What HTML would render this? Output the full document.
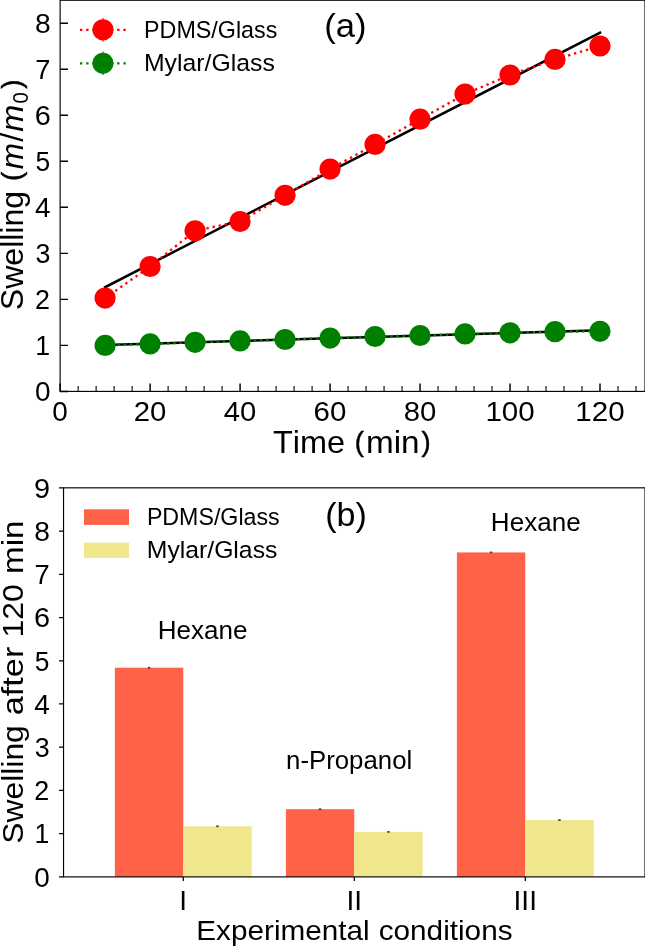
<!DOCTYPE html>
<html><head><meta charset="utf-8"><style>
html,body{margin:0;padding:0;background:#fff;}
svg{display:block;will-change:transform;}
text{font-family:"Liberation Sans",sans-serif;fill:#000;font-kerning:none;}
</style></head><body>
<svg width="645" height="946" viewBox="0 0 645 946">
<rect width="645" height="946" fill="#fff"/>
<line x1="105.12" y1="287.21" x2="600.01" y2="32.69" stroke="#000" stroke-width="2.5" stroke-linecap="square"/>
<line x1="105.12" y1="344.96" x2="600.01" y2="330.34" stroke="#000" stroke-width="2.5" stroke-linecap="square"/>
<polyline points="105.12,298.10 150.11,266.50 195.10,230.80 240.09,221.50 285.08,195.30 330.07,169.10 375.06,144.40 420.05,119.20 465.04,94.10 510.03,75.00 555.02,59.40 600.01,46.00" fill="none" stroke="#ff0000" stroke-width="2.34" stroke-dasharray="2.34 3.86"/>
<circle cx="105.12" cy="298.10" r="10.6" fill="#ff0000"/>
<circle cx="150.11" cy="266.50" r="10.6" fill="#ff0000"/>
<circle cx="195.10" cy="230.80" r="10.6" fill="#ff0000"/>
<circle cx="240.09" cy="221.50" r="10.6" fill="#ff0000"/>
<circle cx="285.08" cy="195.30" r="10.6" fill="#ff0000"/>
<circle cx="330.07" cy="169.10" r="10.6" fill="#ff0000"/>
<circle cx="375.06" cy="144.40" r="10.6" fill="#ff0000"/>
<circle cx="420.05" cy="119.20" r="10.6" fill="#ff0000"/>
<circle cx="465.04" cy="94.10" r="10.6" fill="#ff0000"/>
<circle cx="510.03" cy="75.00" r="10.6" fill="#ff0000"/>
<circle cx="555.02" cy="59.40" r="10.6" fill="#ff0000"/>
<circle cx="600.01" cy="46.00" r="10.6" fill="#ff0000"/>
<polyline points="105.12,345.40 150.11,343.90 195.10,342.30 240.09,340.90 285.08,339.50 330.07,338.10 375.06,336.50 420.05,335.50 465.04,333.90 510.03,332.80 555.02,331.70 600.01,331.30" fill="none" stroke="#008000" stroke-width="2.34" stroke-dasharray="2.34 3.86"/>
<circle cx="105.12" cy="345.40" r="10.6" fill="#008000"/>
<circle cx="150.11" cy="343.90" r="10.6" fill="#008000"/>
<circle cx="195.10" cy="342.30" r="10.6" fill="#008000"/>
<circle cx="240.09" cy="340.90" r="10.6" fill="#008000"/>
<circle cx="285.08" cy="339.50" r="10.6" fill="#008000"/>
<circle cx="330.07" cy="338.10" r="10.6" fill="#008000"/>
<circle cx="375.06" cy="336.50" r="10.6" fill="#008000"/>
<circle cx="420.05" cy="335.50" r="10.6" fill="#008000"/>
<circle cx="465.04" cy="333.90" r="10.6" fill="#008000"/>
<circle cx="510.03" cy="332.80" r="10.6" fill="#008000"/>
<circle cx="555.02" cy="331.70" r="10.6" fill="#008000"/>
<circle cx="600.01" cy="331.30" r="10.6" fill="#008000"/>
<path d="M60.13,391.40H67.93M60.13,345.38H67.93M60.13,299.36H67.93M60.13,253.35H67.93M60.13,207.33H67.93M60.13,161.31H67.93M60.13,115.29H67.93M60.13,69.28H67.93M60.13,23.26H67.93M60.13,391.40V383.40M150.11,391.40V383.40M240.09,391.40V383.40M330.07,391.40V383.40M420.05,391.40V383.40M510.03,391.40V383.40M600.01,391.40V383.40" stroke="#000" stroke-width="1.45" fill="none"/>
<path d="M78.13,391.40V385.90M96.12,391.40V385.90M114.12,391.40V385.90M132.11,391.40V385.90M168.11,391.40V385.90M186.10,391.40V385.90M204.10,391.40V385.90M222.09,391.40V385.90M258.09,391.40V385.90M276.08,391.40V385.90M294.08,391.40V385.90M312.07,391.40V385.90M348.07,391.40V385.90M366.06,391.40V385.90M384.06,391.40V385.90M402.05,391.40V385.90M438.05,391.40V385.90M456.04,391.40V385.90M474.04,391.40V385.90M492.03,391.40V385.90M528.03,391.40V385.90M546.02,391.40V385.90M564.02,391.40V385.90M582.01,391.40V385.90M618.01,391.40V385.90M636.00,391.40V385.90" stroke="#000" stroke-width="1.1" fill="none"/>
<rect x="60.13" y="0.25" width="584.87" height="391.15" fill="none" stroke="#000" stroke-width="1.15"/>
<line x1="80.0" y1="29.8" x2="126" y2="29.8" stroke="#ff0000" stroke-width="2.34" stroke-dasharray="2.34 3.86"/>
<circle cx="103" cy="29.8" r="10.6" fill="#ff0000"/>
<line x1="103" y1="18.000000000000004" x2="103" y2="41.6" stroke="#ff0000" stroke-width="1.1"/>
<line x1="80.0" y1="63.3" x2="126" y2="63.3" stroke="#008000" stroke-width="2.34" stroke-dasharray="2.34 3.86"/>
<circle cx="103" cy="63.3" r="10.6" fill="#008000"/>
<line x1="103" y1="51.49999999999999" x2="103" y2="75.1" stroke="#008000" stroke-width="1.1"/>
<rect x="114.86" y="667.71" width="68.4" height="209.19" fill="#ff6347"/>
<rect x="183.26" y="826.30" width="68.4" height="50.60" fill="#f0e68c"/>
<rect x="285.88" y="809.20" width="68.4" height="67.70" fill="#ff6347"/>
<rect x="354.28" y="831.90" width="68.4" height="45.00" fill="#f0e68c"/>
<rect x="456.89" y="552.42" width="68.4" height="324.48" fill="#ff6347"/>
<rect x="525.29" y="820.10" width="68.4" height="56.80" fill="#f0e68c"/>
<rect x="147.86" y="666.81" width="2.4" height="1.8" fill="#444"/>
<rect x="216.26" y="825.40" width="2.4" height="1.8" fill="#444"/>
<rect x="318.88" y="808.30" width="2.4" height="1.8" fill="#444"/>
<rect x="387.28" y="831.00" width="2.4" height="1.8" fill="#444"/>
<rect x="489.89" y="551.52" width="2.4" height="1.8" fill="#444"/>
<rect x="558.29" y="819.20" width="2.4" height="1.8" fill="#444"/>
<path d="M63.55,876.90H59.00M63.55,833.67H59.00M63.55,790.44H59.00M63.55,747.21H59.00M63.55,703.98H59.00M63.55,660.75H59.00M63.55,617.52H59.00M63.55,574.29H59.00M63.55,531.06H59.00M63.55,487.83H59.00M183.26,876.90V881.10M354.28,876.90V881.10M525.29,876.90V881.10" stroke="#000" stroke-width="1.25" fill="none"/>
<rect x="63.55" y="487.83" width="581.45" height="389.07" fill="none" stroke="#000" stroke-width="1.15"/>
<rect x="84" y="509.3" width="45" height="15.6" fill="#ff6347"/>
<rect x="84" y="542.6" width="45" height="15.3" fill="#f0e68c"/>
<text x="144.09" y="37.50" font-size="23.96" textLength="133.25" lengthAdjust="spacingAndGlyphs">PDMS/Glass</text>
<text x="143.97" y="70.70" font-size="23.96" textLength="130.83" lengthAdjust="spacingAndGlyphs">Mylar/Glass</text>
<text x="35.10" y="401.20" font-size="28.09" textLength="15.54" lengthAdjust="spacingAndGlyphs">0</text>
<text x="35.32" y="355.18" font-size="28.09" textLength="14.84" lengthAdjust="spacingAndGlyphs">1</text>
<text x="35.03" y="309.16" font-size="28.09" textLength="14.97" lengthAdjust="spacingAndGlyphs">2</text>
<text x="35.44" y="263.15" font-size="28.09" textLength="14.92" lengthAdjust="spacingAndGlyphs">3</text>
<text x="35.09" y="217.13" font-size="28.09" textLength="15.54" lengthAdjust="spacingAndGlyphs">4</text>
<text x="35.43" y="171.11" font-size="28.09" textLength="14.66" lengthAdjust="spacingAndGlyphs">5</text>
<text x="34.82" y="125.09" font-size="28.09" textLength="16.08" lengthAdjust="spacingAndGlyphs">6</text>
<text x="35.21" y="79.08" font-size="28.09" textLength="15.20" lengthAdjust="spacingAndGlyphs">7</text>
<text x="35.01" y="33.06" font-size="28.09" textLength="15.70" lengthAdjust="spacingAndGlyphs">8</text>
<text x="52.36" y="420.50" font-size="28.09" textLength="15.54" lengthAdjust="spacingAndGlyphs">0</text>
<text x="133.71" y="420.50" font-size="28.09" textLength="32.64" lengthAdjust="spacingAndGlyphs">20</text>
<text x="223.85" y="420.50" font-size="28.09" textLength="32.48" lengthAdjust="spacingAndGlyphs">40</text>
<text x="313.56" y="420.50" font-size="28.09" textLength="32.76" lengthAdjust="spacingAndGlyphs">60</text>
<text x="403.72" y="420.50" font-size="28.09" textLength="32.58" lengthAdjust="spacingAndGlyphs">80</text>
<text x="485.40" y="420.50" font-size="28.09" textLength="49.32" lengthAdjust="spacingAndGlyphs">100</text>
<text x="575.38" y="420.50" font-size="28.09" textLength="49.32" lengthAdjust="spacingAndGlyphs">120</text>
<text x="272.97" y="452.90" font-size="30.53" textLength="72.09" lengthAdjust="spacingAndGlyphs">Time</text>
<text x="354.65" y="451.00" font-size="27.53" textLength="9.17" lengthAdjust="spacingAndGlyphs" stroke="#000" stroke-width="0.45">(</text>
<text x="365.94" y="452.90" font-size="30.53" textLength="53.62" lengthAdjust="spacingAndGlyphs">min</text>
<text x="421.57" y="451.00" font-size="27.53" textLength="9.17" lengthAdjust="spacingAndGlyphs" stroke="#000" stroke-width="0.45">)</text>
<text x="324.15" y="36.50" font-size="33.70" textLength="42.29" lengthAdjust="spacingAndGlyphs">(a)</text>
<text x="146.90" y="525.10" font-size="23.96" textLength="132.74" lengthAdjust="spacingAndGlyphs">PDMS/Glass</text>
<text x="146.77" y="558.10" font-size="23.96" textLength="130.62" lengthAdjust="spacingAndGlyphs">Mylar/Glass</text>
<text x="34.30" y="886.70" font-size="28.09" textLength="15.54" lengthAdjust="spacingAndGlyphs">0</text>
<text x="34.52" y="843.47" font-size="28.09" textLength="14.84" lengthAdjust="spacingAndGlyphs">1</text>
<text x="34.23" y="800.24" font-size="28.09" textLength="14.97" lengthAdjust="spacingAndGlyphs">2</text>
<text x="34.64" y="757.01" font-size="28.09" textLength="14.92" lengthAdjust="spacingAndGlyphs">3</text>
<text x="34.29" y="713.78" font-size="28.09" textLength="15.54" lengthAdjust="spacingAndGlyphs">4</text>
<text x="34.63" y="670.55" font-size="28.09" textLength="14.66" lengthAdjust="spacingAndGlyphs">5</text>
<text x="34.02" y="627.32" font-size="28.09" textLength="16.08" lengthAdjust="spacingAndGlyphs">6</text>
<text x="34.41" y="584.09" font-size="28.09" textLength="15.20" lengthAdjust="spacingAndGlyphs">7</text>
<text x="34.21" y="540.86" font-size="28.09" textLength="15.70" lengthAdjust="spacingAndGlyphs">8</text>
<text x="33.96" y="497.63" font-size="28.09" textLength="16.05" lengthAdjust="spacingAndGlyphs">9</text>
<text x="179.37" y="909.90" font-size="28.09" textLength="7.79" lengthAdjust="spacingAndGlyphs">I</text>
<text x="346.47" y="909.90" font-size="28.09" textLength="15.62" lengthAdjust="spacingAndGlyphs">II</text>
<text x="513.57" y="909.90" font-size="28.09" textLength="23.43" lengthAdjust="spacingAndGlyphs">III</text>
<text x="196.26" y="940.30" font-size="27.67" textLength="173.46" lengthAdjust="spacingAndGlyphs">Experimental</text>
<text x="378.66" y="940.30" font-size="27.67" textLength="133.90" lengthAdjust="spacingAndGlyphs">conditions</text>
<text x="325.29" y="525.90" font-size="33.70" textLength="41.62" lengthAdjust="spacingAndGlyphs">(b)</text>
<text x="157.66" y="639.00" font-size="25.02" textLength="89.79" lengthAdjust="spacingAndGlyphs">Hexane</text>
<text x="286.09" y="768.60" font-size="25.02" textLength="126.14" lengthAdjust="spacingAndGlyphs">n-Propanol</text>
<text x="490.86" y="531.00" font-size="25.02" textLength="89.79" lengthAdjust="spacingAndGlyphs">Hexane</text>
<g transform="rotate(-90)">
<text x="-310.26" y="22.60" font-size="30.61" textLength="119.42" lengthAdjust="spacingAndGlyphs">Swelling</text>
<text x="-180.97" y="20.69" font-size="27.61" textLength="9.19" lengthAdjust="spacingAndGlyphs" stroke="#000" stroke-width="0.45">(</text>
<text x="-169.22" y="22.60" font-size="30.61" textLength="26.29" lengthAdjust="spacingAndGlyphs" font-style="italic">m</text>
<text x="-141.80" y="22.60" font-size="30.61" textLength="9.00" lengthAdjust="spacingAndGlyphs">/</text>
<text x="-131.74" y="22.60" font-size="30.61" textLength="27.05" lengthAdjust="spacingAndGlyphs" font-style="italic">m</text>
<text x="-103.40" y="27.60" font-size="21.41" textLength="11.40" lengthAdjust="spacingAndGlyphs">0</text>
<text x="-88.72" y="20.69" font-size="27.61" textLength="9.19" lengthAdjust="spacingAndGlyphs" stroke="#000" stroke-width="0.45">)</text>
<text x="-843.74" y="22.50" font-size="30.38" textLength="118.51" lengthAdjust="spacingAndGlyphs">Swelling</text>
<text x="-715.30" y="22.50" font-size="30.38" textLength="68.61" lengthAdjust="spacingAndGlyphs">after</text>
<text x="-637.44" y="22.50" font-size="30.38" textLength="53.33" lengthAdjust="spacingAndGlyphs">120</text>
<text x="-573.94" y="22.50" font-size="30.38" textLength="53.36" lengthAdjust="spacingAndGlyphs">min</text>
</g>
</svg>
</body></html>
